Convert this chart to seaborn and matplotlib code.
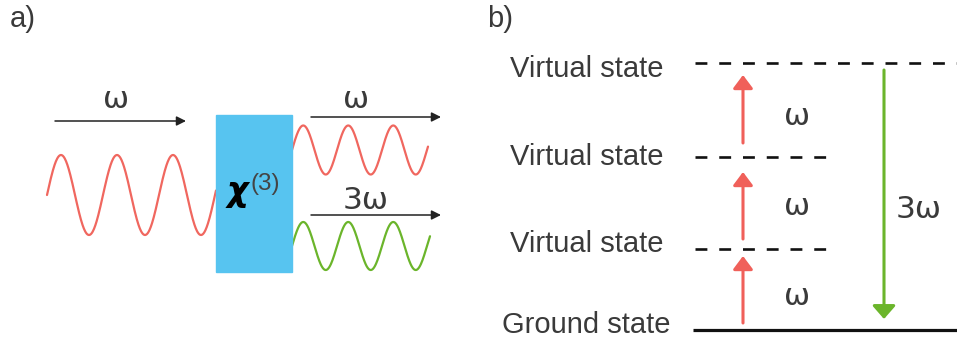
import numpy as np
import pandas as pd
import matplotlib
matplotlib.use("Agg")
import matplotlib.pyplot as plt
from matplotlib.patches import Rectangle
import seaborn as sns

sns.set_theme(style="white")
plt.rcParams["font.family"] = ["Liberation Sans", "DejaVu Sans"]

# ---- data ----
wave_names = ["input", "out_w", "out_3w"]
wave_start = [47, 292, 292]
wave_end = [216, 428, 430]
wave_center = [195, 150, 246]
wave_amp = [40, 24.5, 24]
wave_period = [56, 45, 45]
wave_colors = ["#F0675F", "#F0675F", "#6BB52B"]

level_labels = ["Virtual state", "Virtual state", "Virtual state", "Ground state"]
level_y = [63, 157, 249, 330]
level_x1 = [957, 827, 827, 957]
level_label_baseline = [77, 165, 252, 333]

up_tail = [323, 239, 143]
up_tip = [256, 172, 75]
up_labels = ["ω", "ω", "ω"]
up_label_baseline = [305, 215, 125]

TXT = "#3a3a3a"
OMEGA_FONT = dict(family=["DejaVu Sans"], fontsize=22.5)

fig = plt.figure(figsize=(9.57, 3.45), dpi=100)
ax = fig.add_axes([0, 0, 1, 1])
ax.set_xlim(0, 957)
ax.set_ylim(345, 0)
ax.axis("off")

# ---- panel a ----
rows = []
for n, s, e, c, a, p in zip(wave_names, wave_start, wave_end, wave_center, wave_amp, wave_period):
    x = np.linspace(s, e, 400)
    y = c - a * np.sin(2 * np.pi * (x - s) / p)
    rows.append(pd.DataFrame({"x": x, "y": y, "wave": n}))
waves = pd.concat(rows, ignore_index=True)
sns.lineplot(data=waves, x="x", y="y", hue="wave", palette=dict(zip(wave_names, wave_colors)),
             sort=False, estimator=None, lw=1.6, legend=False, ax=ax)

ax.add_patch(Rectangle((216, 115), 76, 157, color="#57C4F0", zorder=3))
ax.text(227, 201, "χ", fontsize=24, fontweight="bold", fontstyle="italic",
        family="DejaVu Sans", color="black", ha="left", va="baseline", zorder=4)
ax.text(251, 190, "(3)", fontsize=17.5, color="#444444", ha="left", va="baseline", zorder=4)

def arrow(x0, y0, x1, y1, color, lw, ms, hw=0.2):
    ax.annotate("", xy=(x1, y1), xytext=(x0, y0),
                arrowprops=dict(arrowstyle=f"-|>,head_length=0.4,head_width={hw}",
                                color=color, lw=lw, mutation_scale=ms,
                                shrinkA=0, shrinkB=0), zorder=5)

arrow(55, 121, 186, 121, "#222222", 1.1, 14)
arrow(311, 117, 441, 117, "#222222", 1.1, 14)
arrow(311, 215, 441, 215, "#222222", 1.1, 14)

ax.text(116, 108, "ω", color=TXT, ha="center", va="baseline", **OMEGA_FONT)
ax.text(356, 108, "ω", color=TXT, ha="center", va="baseline", **OMEGA_FONT)
ax.text(366, 209, "3ω", color=TXT, ha="center", va="baseline", **OMEGA_FONT)
ax.text(10, 27, "a)", fontsize=21, color=TXT, ha="left", va="baseline")

# ---- panel b ----
ax.text(487, 27, "b)", fontsize=21, color=TXT, ha="left", va="baseline")
for lab, y, x1, bl in zip(level_labels, level_y, level_x1, level_label_baseline):
    if lab.startswith("Ground"):
        ax.plot([693, x1], [y, y], color="#111111", lw=2.3, solid_capstyle="butt")
        ax.text(671, bl, lab, fontsize=21, color=TXT, ha="right", va="baseline")
    else:
        ax.plot([695, x1], [y, y], color="#111111", lw=1.9,
                linestyle=(0, (4.5, 4.5)), dash_capstyle="butt")
        ax.text(664, bl, lab, fontsize=21, color=TXT, ha="right", va="baseline")

for t0, t1, lab, bl in zip(up_tail, up_tip, up_labels, up_label_baseline):
    arrow(743, t0, 743, t1, "#F0605A", 2.2, 20, 0.3)
    ax.text(797, bl, lab, color=TXT, ha="center", va="baseline", **OMEGA_FONT)

arrow(884, 70, 884, 319, "#6BB52B", 2.2, 20, 0.35)
ax.text(919, 218, "3ω", color=TXT, ha="center", va="baseline", **OMEGA_FONT)

fig.savefig("out.png", dpi=100)
